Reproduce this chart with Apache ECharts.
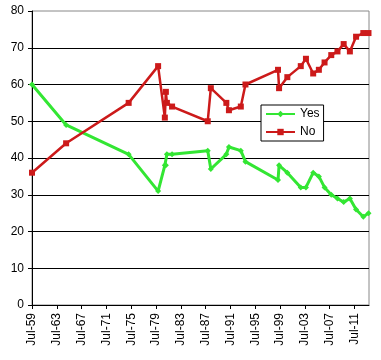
<!DOCTYPE html>
<html>
<head>
<meta charset="utf-8">
<script src="https://cdn.jsdelivr.net/npm/echarts@6/dist/echarts.min.js"></script>
<style>html,body{margin:0;padding:0;background:#fff}#c{width:381px;height:360px}</style>
</head>
<body>
<div id="c"></div>
<script>
// Poll dates (year-month) and results (%)
var dates = ['1959-07','1965-01','1975-02','1979-11','1980-12','1981-02','1981-04','1982-02',
  '1987-11','1988-05','1990-11','1991-04','1993-03','1993-12','1999-03','1999-05','2000-09',
  '2002-11','2003-09','2004-11','2005-10','2006-09','2007-10','2008-10','2009-10','2010-10',
  '2011-10','2012-12','2013-10'];
var yesValues = [60,49,41,31,38,38,41,41,42,37,41,43,42,39,34,38,36,32,32,36,35,32,30,29,28,29,26,24,25];
var noValues  = [36,44,55,65,51,58,55,54,50,59,55,53,54,60,64,59,62,65,67,63,64,66,68,69,71,69,73,74,74];
var tickYears = [1959,1963,1967,1971,1975,1979,1983,1987,1991,1995,1999,2003,2007,2011];
var axisStart = '1959-07';
var axisEndMonths = 652;

function monthsFromStart(d) {
  var p = d.split('-'), s = axisStart.split('-');
  return (parseInt(p[0]) - parseInt(s[0])) * 12 + (parseInt(p[1]) - parseInt(s[1]));
}
var tickValues = tickYears.map(function (y) { return (y - 1959) * 12; });
function pairs(vals) { return dates.map(function (d, i) { return [monthsFromStart(d), vals[i]]; }); }

var chart = echarts.init(document.getElementById('c'), null, {renderer: 'canvas'});
var font = 'Liberation Sans, Arial, sans-serif';
chart.setOption({
  backgroundColor: '#fff',
  animation: false,
  grid: {left: 32, right: 12, top: 11, bottom: 55, show: true, borderColor: '#888', borderWidth: 1, backgroundColor: 'transparent'},
  legend: {
    orient: 'vertical', left: 261, top: 105,
    padding: [3, 4, 3, 4], itemGap: 6, itemWidth: 29, itemHeight: 8,
    borderColor: '#000', borderWidth: 1, backgroundColor: '#fff', borderRadius: 0,
    textStyle: {fontFamily: font, fontSize: 12, color: '#000'},
    data: ['Yes', 'No']
  },
  xAxis: {
    type: 'value', min: 0, max: axisEndMonths, interval: 48,
    axisLine: {lineStyle: {color: '#000', width: 1}},
    axisTick: {show: true, length: 4, inside: false, lineStyle: {color: '#000'}, customValues: tickValues},
    axisLabel: {
      rotate: 90, margin: 8, fontFamily: font, fontSize: 12, color: '#000',
      customValues: tickValues,
      formatter: function (v) {
        if (v % 48 !== 0) return '';
        var y = 1959 + v / 12;
        return 'Jul-' + String(y % 100).padStart(2, '0');
      }
    },
    splitLine: {show: false}
  },
  yAxis: {
    type: 'value', min: 0, max: 80, interval: 10,
    axisLine: {show: true, lineStyle: {color: '#000', width: 1}},
    axisTick: {show: true, length: 4, lineStyle: {color: '#000'}},
    axisLabel: {fontFamily: font, fontSize: 12, color: '#000', margin: 8},
    splitLine: {show: true, showMaxLine: false, lineStyle: {color: '#000', width: 1}}
  },
  series: [
    {
      name: 'Yes', type: 'line', data: pairs(yesValues),
      symbol: 'diamond', symbolSize: 6,
      lineStyle: {color: '#33e633', width: 3},
      itemStyle: {color: '#33e633'}
    },
    {
      name: 'No', type: 'line', data: pairs(noValues),
      symbol: 'rect', symbolSize: 6,
      lineStyle: {color: '#cc1a1a', width: 2.5},
      itemStyle: {color: '#cc1a1a'}
    }
  ]
});
</script>
</body>
</html>
